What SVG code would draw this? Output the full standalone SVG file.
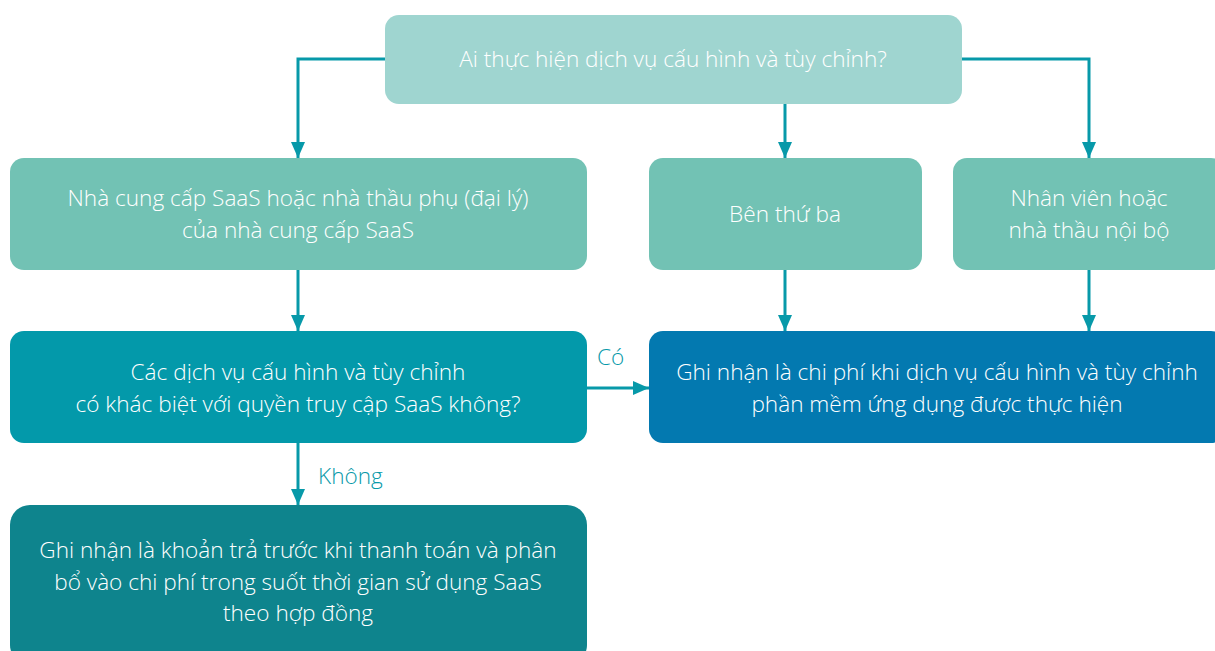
<svg xmlns="http://www.w3.org/2000/svg" width="1215" height="651" viewBox="0 0 1215 651">
<defs>
<style>
.t{font-family:"Open Sans","Noto Sans",sans-serif;font-weight:300;font-size:22.6px;fill:#ffffff;text-anchor:middle}
.lbl{font-family:"Open Sans","Noto Sans",sans-serif;font-weight:300;font-size:22.6px;fill:#0799a9}
.c{fill:none;stroke:#0799a9;stroke-width:3}
</style>
<marker id="ah" viewBox="0 0 16 14" refX="16" refY="7" markerWidth="16" markerHeight="14" markerUnits="userSpaceOnUse" orient="auto">
<path d="M0,0 L16,7 L0,14 Z" fill="#0799a9"/>
</marker>
</defs>
<rect width="1215" height="651" fill="#ffffff"/>
<g id="connectors">
<path class="c" d="M385,59 H298 V158" marker-end="url(#ah)"/>
<path class="c" d="M785,104 V158" marker-end="url(#ah)"/>
<path class="c" d="M962,59 H1089 V158" marker-end="url(#ah)"/>
<path class="c" d="M298,270 V331" marker-end="url(#ah)"/>
<path class="c" d="M785,270 V331" marker-end="url(#ah)"/>
<path class="c" d="M1089,270 V331" marker-end="url(#ah)"/>
<path class="c" d="M587,388 H649" marker-end="url(#ah)"/>
<path class="c" d="M298,443 V505" marker-end="url(#ah)"/>
<text class="lbl" x="597" y="365">Có</text>
<text class="lbl" x="318" y="484">Không</text>
</g>
<g id="n-top">
<rect x="385" y="15" width="577" height="89" rx="14" fill="#9fd5d0"/>
<text class="t" x="673" y="67">Ai thực hiện dịch vụ cấu hình và tùy chỉnh?</text>
</g>
<g id="n-vendor">
<rect x="10" y="158" width="577" height="112" rx="14" fill="#72c2b4"/>
<text class="t" x="298" y="206">Nhà cung cấp SaaS hoặc nhà thầu phụ (đại lý)</text>
<text class="t" x="298" y="238">của nhà cung cấp SaaS</text>
</g>
<g id="n-third">
<rect x="649" y="158" width="273" height="112" rx="14" fill="#72c2b4"/>
<text class="t" x="785" y="222">Bên thứ ba</text>
</g>
<g id="n-internal">
<rect x="953" y="158" width="272" height="112" rx="14" fill="#72c2b4"/>
<text class="t" x="1089" y="206">Nhân viên hoặc</text>
<text class="t" x="1089" y="238">nhà thầu nội bộ</text>
</g>
<g id="n-decision">
<rect x="10" y="331" width="577" height="112" rx="14" fill="#0399aa"/>
<text class="t" x="298" y="380">Các dịch vụ cấu hình và tùy chỉnh</text>
<text class="t" x="298" y="412">có khác biệt với quyền truy cập SaaS không?</text>
</g>
<g id="n-expense">
<rect x="649" y="331" width="576" height="112" rx="14" fill="#0379b0"/>
<text class="t" x="937" y="380">Ghi nhận là chi phí khi dịch vụ cấu hình và tùy chỉnh</text>
<text class="t" x="937" y="412">phần mềm ứng dụng được thực hiện</text>
</g>
<g id="n-prepaid">
<rect x="10" y="505" width="577" height="160" rx="20" fill="#0e848d"/>
<text class="t" x="298" y="558">Ghi nhận là khoản trả trước khi thanh toán và phân</text>
<text class="t" x="298" y="590">bổ vào chi phí trong suốt thời gian sử dụng SaaS</text>
<text class="t" x="298" y="621">theo hợp đồng</text>
</g>
</svg>
